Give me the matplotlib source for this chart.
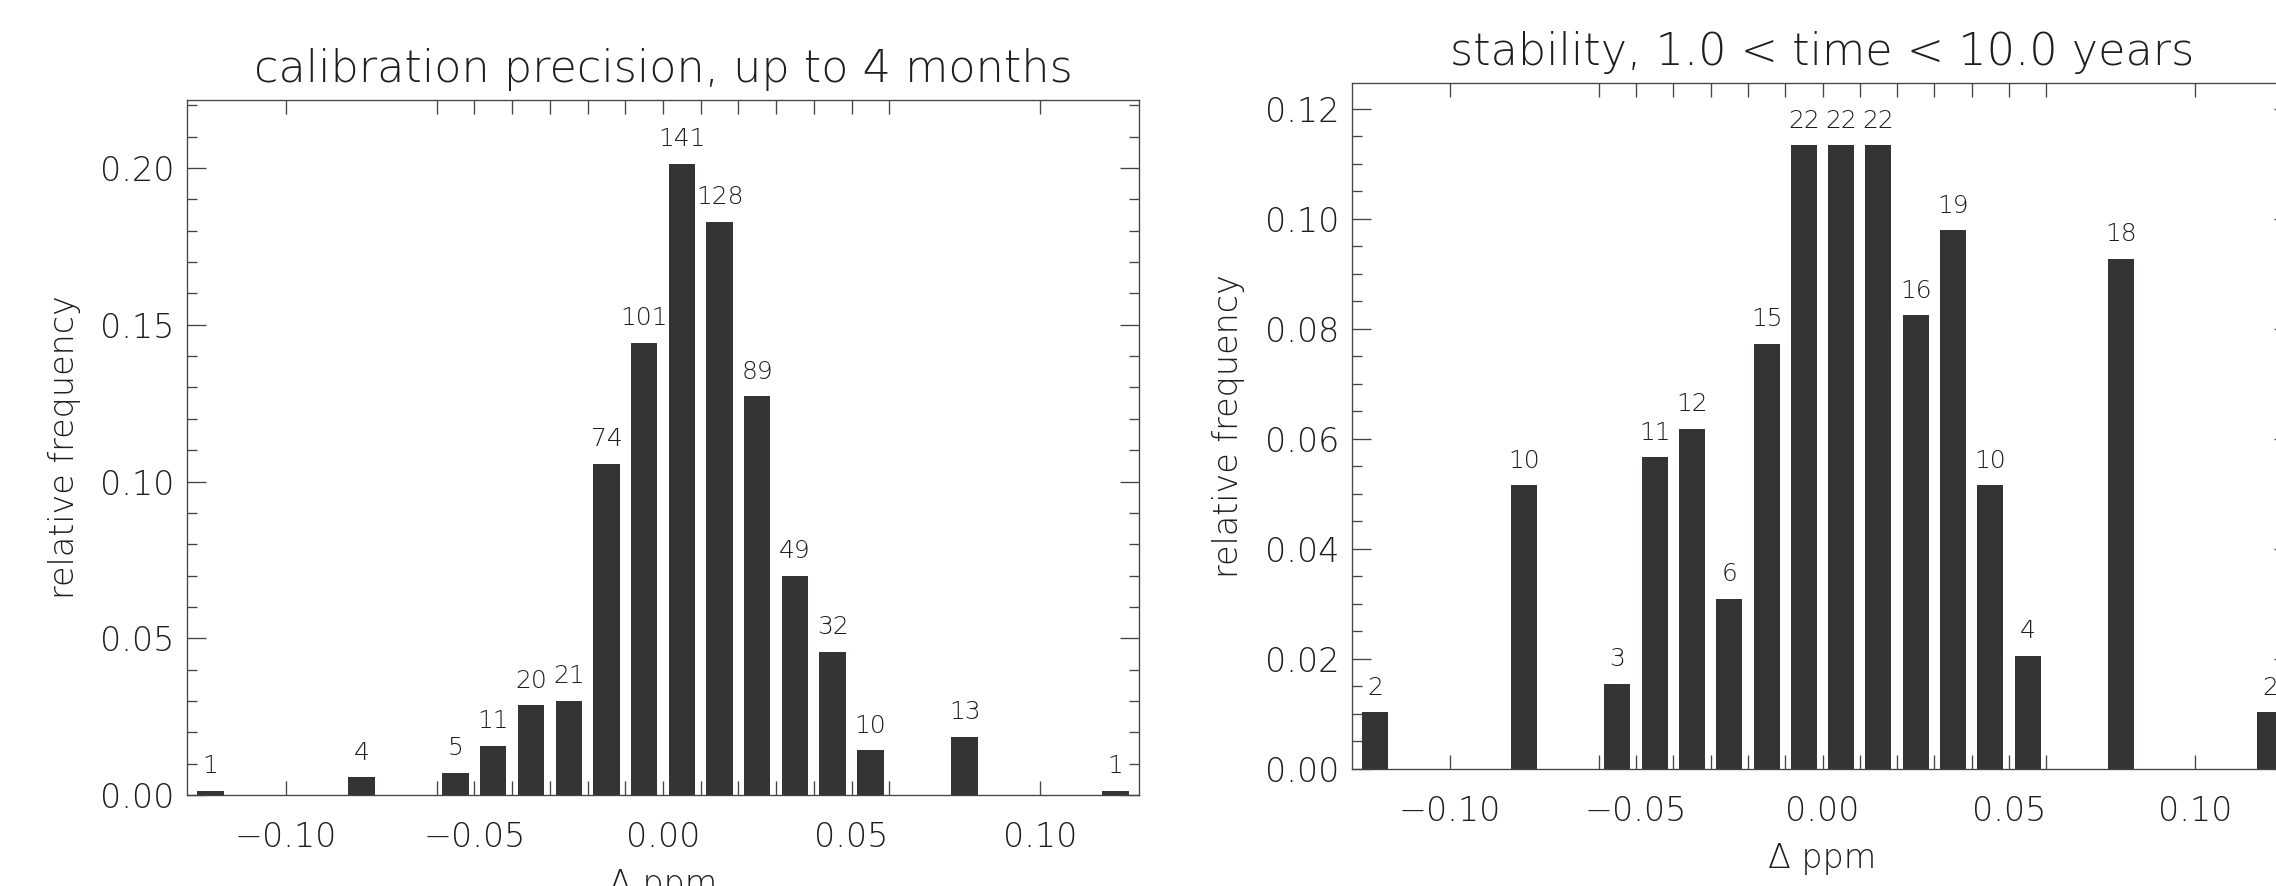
import numpy as np
import matplotlib
matplotlib.use("Agg")
import matplotlib.pyplot as plt

# histogram data
bin_centers = [-0.12, -0.08, -0.055, -0.045, -0.035, -0.025, -0.015, -0.005,
               0.005, 0.015, 0.025, 0.035, 0.045, 0.055, 0.08, 0.12]
counts_calib = [1, 4, 5, 11, 20, 21, 74, 101, 141, 128, 89, 49, 32, 10, 13, 1]
counts_stab = [2, 10, 3, 11, 12, 6, 15, 22, 22, 22, 16, 19, 10, 4, 18, 2]

xtick_major = [-0.10, -0.05, 0.00, 0.05, 0.10]
xtick_labels = ["\u22120.10", "\u22120.05", "0.00", "0.05", "0.10"]
xtick_edges = [-0.06, -0.04, -0.03, -0.02, -0.01, 0.01, 0.02, 0.03, 0.04, 0.06]

title_calib = "calibration precision, up to 4 months"
title_stab = "stability, 1.0 < time < 10.0 years"

plt.rcParams['font.family'] = ['DejaVu Sans']
plt.rcParams['font.weight'] = 'light'
plt.rcParams['axes.titleweight'] = 'light'
plt.rcParams['axes.labelweight'] = 'light'
ink = '#1e1e1e'
bar_col = '#353335'

fig = plt.figure(figsize=(22.76, 8.86), dpi=100)
ax1 = fig.add_axes([0.0822, 0.1027, 0.4182, 0.7844])
ax2 = fig.add_axes([0.5940, 0.1321, 0.4135, 0.7742])


def draw_panel(ax, counts, title, ymax, ymajor, yminor):
    counts = np.asarray(counts)
    rel = counts / counts.sum()
    ax.bar(bin_centers, rel, width=0.007, color=bar_col, linewidth=0, zorder=2)
    for x, h, c in zip(bin_centers, rel, counts):
        ax.annotate(str(c), (x, h), xytext=(0, 9), textcoords='offset points',
                    ha='center', va='bottom', fontsize=18, color=ink,
                    fontweight='light')
    ax.set_xlim(-0.1262, 0.1262)
    ax.set_ylim(0, ymax)
    ax.set_xticks(xtick_major)
    ax.set_xticklabels(xtick_labels)
    ax.set_xticks(xtick_edges, minor=True)
    ax.set_yticks(ymajor)
    ax.set_yticklabels([f"{v:.2f}" for v in ymajor])
    ax.set_yticks(yminor, minor=True)
    ax.tick_params(axis='x', which='both', direction='in', top=True, bottom=True,
                   length=10, width=0.95, color='#444444', labelsize=24,
                   labelcolor=ink, pad=19)
    ax.tick_params(axis='y', which='major', direction='in', left=True, right=True,
                   length=13.5, width=0.95, color='#444444', labelsize=24,
                   labelcolor=ink, pad=9)
    ax.tick_params(axis='y', which='minor', direction='in', left=True, right=True,
                   length=7, width=0.95, color='#444444')
    for s in ax.spines.values():
        s.set_color('#444444')
        s.set_linewidth(0.95)
    ax.set_title(title, fontsize=32, color=ink, pad=13)
    ax.set_ylabel('relative frequency', fontsize=24, color=ink, labelpad=14)
    ax.set_xlabel('\u0394 ppm', fontsize=24, color=ink, labelpad=10)


draw_panel(ax1, counts_calib, title_calib, 0.2217,
           [0.00, 0.05, 0.10, 0.15, 0.20], np.arange(0, 0.2201, 0.01))
draw_panel(ax2, counts_stab, title_stab, 0.1247,
           [0.00, 0.02, 0.04, 0.06, 0.08, 0.10, 0.12], np.arange(0, 0.1241, 0.005))

fig.savefig('out.png', dpi=100)
